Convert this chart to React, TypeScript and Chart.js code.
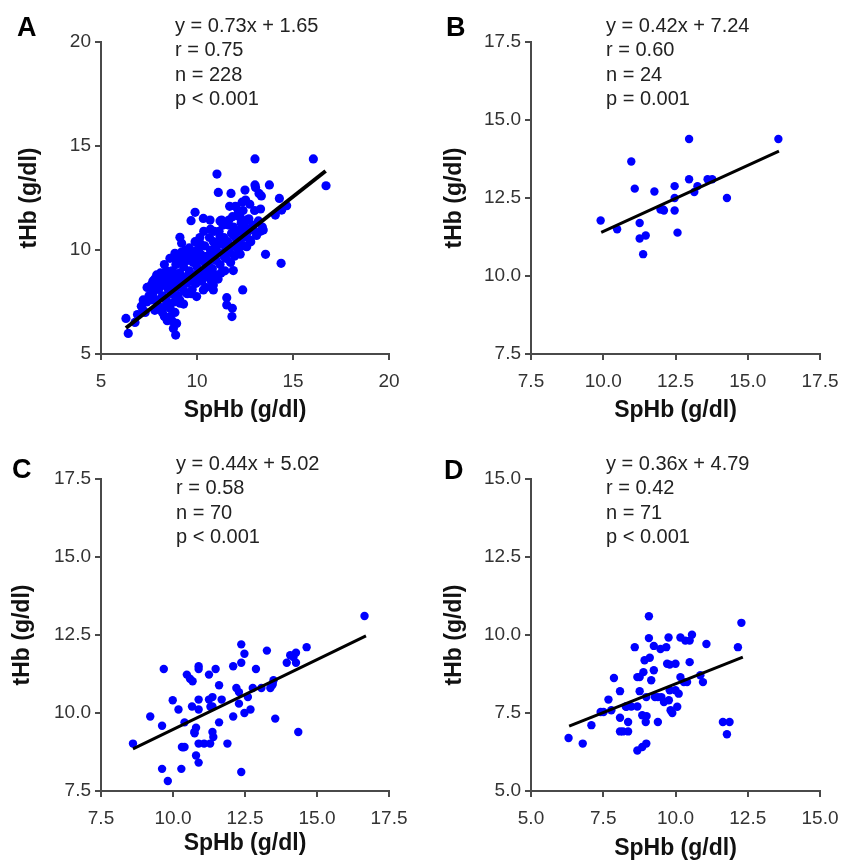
import React, { useEffect, useRef } from 'react';
import { Chart, registerables } from 'chart.js';

Chart.register(...registerables);

// ---------- Panel A (n = 228) ----------
const aSpHb = [
  6.3, 6.42, 6.77, 7.2, 7.38, 8.89, 8.59, 9.11, 9.69, 9.9, 11.04, 11.11, 10.33, 10.68, 11.28, 11.77, 12.03, 12.5, 12.53, 13.02,
  13.02, 13.23, 13.77, 13.31, 12.59, 12.24, 11.66, 11.89, 12.93, 13.45, 13.57, 14.29, 14.41, 14.67, 14.08, 14.38, 16.06, 16.72, 11.89, 12.38,
  11.55, 11.55, 11.84, 11.82, 10.85, 10.59, 10.1, 9.46, 9.2, 8.85, 10.16, 10.94, 11.72, 12.15, 12.59, 12.76, 12.24, 11.2, 10.59, 7.9,
  7.64, 8.33, 8.42, 8.16, 8.59, 8.94, 8.77, 9.11, 9.46, 9.98, 10.33, 10.85,
  7.6, 7.7, 7.8, 7.9, 7.7, 8.0, 7.9, 8.0, 7.8, 7.6,
  8.1, 8.2, 8.3, 8.4, 8.2, 8.3, 8.4, 8.5, 8.1, 8.5, 8.3, 8.45, 8.2, 8.4,
  8.6, 8.7, 8.8, 8.9, 8.6, 8.7, 8.8, 9.0, 8.9, 8.7, 8.65, 9.0, 8.85, 8.95, 8.75,
  9.1, 9.2, 9.3, 9.4, 9.1, 9.2, 9.35, 9.5, 9.45, 9.15, 9.3, 9.4, 9.25, 9.5, 9.05, 9.35,
  9.6, 9.7, 9.8, 9.9, 9.6, 9.75, 9.85, 10.0, 9.95, 9.65, 9.9, 9.7, 9.8, 10.0, 9.55, 9.9,
  10.1, 10.2, 10.3, 10.4, 10.15, 10.25, 10.4, 10.5, 10.3, 10.45, 10.2, 10.35, 10.5, 10.1, 10.4,
  10.6, 10.7, 10.8, 10.9, 10.65, 10.75, 10.85, 11.0, 10.95, 10.7, 10.9, 10.8, 11.0, 10.6,
  11.1, 11.2, 11.3, 11.4, 11.15, 11.25, 11.35, 11.5, 11.45, 11.2, 11.4, 11.1, 11.5,
  11.6, 11.7, 11.8, 11.9, 11.65, 11.75, 11.85, 12.0, 11.95, 11.7, 11.9, 12.0,
  12.1, 12.2, 12.3, 12.4, 12.15, 12.25, 12.35, 12.5, 12.45, 12.2, 12.4,
  12.6, 12.7, 12.8, 12.9, 13.0, 13.1, 13.2, 13.3, 13.4, 12.75, 13.05, 13.35,
  6.9, 7.1, 7.3, 7.5, 7.4, 7.2,
];
const aTHb = [
  6.71, 5.99, 6.52, 7.1, 7.5, 5.91, 9.6, 10.61, 11.41, 11.81, 13.65, 12.77, 11.52, 11.44, 11.44, 12.72, 12.08, 12.88, 12.4, 14.38,
  13.13, 12.72, 13.13, 11.97, 11.44, 11.6, 11.44, 10.72, 10.96, 10.96, 9.79, 12.48, 11.92, 12.13, 11.68, 9.36, 14.38, 13.09, 9.01, 8.08,
  7.71, 7.36, 7.2, 6.8, 8.32, 8.72, 9.52, 9.6, 10.33, 9.84, 10.33, 10.33, 10.16, 10.0, 10.16, 10.48, 10.96, 10.64, 9.68, 8.4,
  8.16, 8.72, 7.44, 7.12, 6.8, 6.47, 6.23, 7.44, 7.92, 7.76, 8.08, 8.08,
  8.3, 7.9, 8.6, 7.6, 8.5, 8.1, 8.8, 7.3, 7.1, 7.6,
  8.6, 7.8, 8.3, 9.0, 7.0, 6.8, 7.6, 8.1, 8.9, 8.7, 9.3, 6.6, 8.45, 7.3,
  8.4, 7.9, 8.9, 8.2, 7.2, 6.6, 7.5, 8.6, 9.3, 9.0, 8.05, 7.8, 7.0, 9.6, 8.55,
  8.9, 8.3, 9.2, 8.7, 7.6, 9.9, 8.0, 9.5, 8.4, 9.45, 7.4, 10.0, 8.65, 7.9, 8.2, 9.7,
  9.0, 8.5, 9.4, 8.8, 10.1, 8.1, 9.9, 9.2, 8.4, 9.7, 10.4, 7.9, 8.7, 10.0, 8.8, 9.6,
  9.0, 9.8, 8.9, 9.4, 10.6, 8.5, 10.2, 9.0, 9.6, 8.2, 10.2, 10.9, 9.7, 8.6, 8.7,
  9.3, 10.0, 9.1, 9.8, 10.6, 8.5, 10.4, 9.5, 8.8, 11.0, 10.9, 9.6, 10.2, 8.9,
  9.9, 9.3, 10.3, 9.7, 10.9, 8.9, 11.2, 10.1, 9.0, 11.4, 10.6, 8.6, 9.6,
  10.4, 9.9, 10.8, 10.2, 11.2, 9.4, 11.6, 10.6, 9.7, 12.1, 11.1, 12.1,
  10.9, 10.3, 11.3, 10.6, 11.8, 9.8, 12.3, 11.1, 10.2, 11.6, 11.9,
  10.8, 11.5, 10.4, 11.2, 11.9, 10.7, 11.4, 10.9, 11.1, 12.2, 13.0, 12.6,
  6.9, 7.3, 7.0, 7.8, 8.2, 7.6,
];
const aFitX = [6.3, 16.7];
const aFitY = [6.25, 13.8];
const aTicks = [5, 10, 15, 20];
const aTickLabels = ['5', '10', '15', '20'];
const aStats = ['y = 0.73x + 1.65', 'r = 0.75', 'n = 228', 'p < 0.001'];

// ---------- Panel B (n = 24) ----------
const bSpHb = [9.91, 10.48, 10.97, 11.09, 11.26, 11.26, 11.47, 11.38, 11.77, 11.98, 12.07, 12.47, 12.47, 12.47, 12.57, 12.97, 12.97, 13.15, 13.26, 13.61, 13.77, 14.28, 16.06, 12.1];
const bTHb = [11.78, 11.5, 13.67, 12.8, 11.7, 11.2, 11.3, 10.7, 12.71, 12.13, 12.13, 12.88, 12.5, 12.1, 11.39, 14.39, 13.1, 12.69, 12.88, 13.1, 13.1, 12.5, 14.39, 12.1];
const bFitX = [9.93, 16.08];
const bFitY = [11.4, 14.0];
const bTicks = [7.5, 10, 12.5, 15, 17.5];
const bTickLabels = ['7.5', '10.0', '12.5', '15.0', '17.5'];
const bStats = ['y = 0.42x + 7.24', 'r = 0.60', 'n = 24', 'p = 0.001'];

// ---------- Panel C (n = 70) ----------
const cSpHb = [
  8.61, 9.21, 9.62, 9.68, 9.62, 9.82, 9.99, 10.19, 10.29, 10.31, 10.4, 10.4, 10.48, 10.59, 10.68, 10.66, 10.74, 10.8, 10.8, 10.89,
  10.89, 10.89, 10.89, 10.89, 10.89, 11.08, 11.25, 11.25, 11.29, 11.37, 11.37, 11.4, 11.48, 11.6, 11.6, 11.69, 11.37, 11.89, 12.09, 12.09,
  12.2, 12.29, 12.29, 12.37, 12.37, 12.37, 12.48, 12.48, 12.6, 12.69, 12.77, 12.88, 13.07, 13.26, 13.38, 13.46, 13.49, 13.55, 13.95, 14.07,
  14.18, 14.27, 14.27, 14.35, 14.64, 16.65, 10.35, 10.75, 11.3, 13.45,
];
const cTHb = [
  9.02, 9.89, 9.59, 11.41, 8.21, 7.82, 10.41, 10.11, 8.21, 8.91, 9.7, 8.91, 11.23, 11.1, 11.02, 10.21, 9.39, 9.53, 8.64, 11.5,
  11.41, 10.43, 10.11, 9.02, 8.41, 9.02, 11.23, 10.43, 9.02, 10.21, 9.39, 9.23, 11.41, 10.89, 9.7, 10.43, 10.51, 9.02, 11.5, 9.89,
  10.8, 10.67, 10.3, 12.2, 11.61, 8.11, 11.9, 10.0, 10.51, 10.11, 10.8, 11.41, 10.8, 12.0, 10.8, 10.94, 11.05, 9.82, 11.61, 11.85,
  11.79, 11.93, 11.61, 9.39, 12.11, 13.11, 8.9, 9.35, 10.2, 10.9,
];
const cFitX = [8.61, 16.7];
const cFitY = [8.85, 12.47];
const cTicks = [7.5, 10, 12.5, 15, 17.5];
const cTickLabels = ['7.5', '10.0', '12.5', '15.0', '17.5'];
const cStats = ['y = 0.44x + 5.02', 'r = 0.58', 'n = 70', 'p < 0.001'];

// ---------- Panel D (n = 71) ----------
const dSpHb = [
  6.3, 6.79, 7.09, 7.41, 7.51, 7.68, 7.78, 7.87, 8.08, 8.08, 8.08, 8.18, 8.28, 8.36, 8.36, 8.47, 8.59, 8.68, 8.68, 8.68,
  8.76, 8.76, 8.85, 8.85, 8.89, 8.93, 8.97, 8.99, 8.99, 9.08, 9.08, 9.11, 9.16, 9.25, 9.25, 9.29, 9.39, 9.39, 9.48, 9.51,
  9.6, 9.68, 9.71, 9.76, 9.77, 9.83, 9.8, 9.89, 10.0, 10.0, 10.06, 10.11, 10.17, 10.17, 10.29, 10.34, 10.4, 10.49, 10.57, 10.49,
  10.86, 10.95, 11.07, 11.64, 11.87, 11.78, 12.16, 12.28, 9.0, 8.3, 9.8,
];
const dTHb = [
  6.7, 6.52, 7.11, 7.53, 7.53, 7.93, 7.59, 8.62, 8.2, 7.35, 6.91, 6.91, 7.71, 7.21, 6.91, 7.71, 9.61, 8.65, 7.71, 6.3,
  8.65, 8.2, 7.43, 6.41, 8.81, 9.19, 7.21, 6.52, 8.01, 10.6, 9.9, 9.27, 8.55, 8.87, 9.65, 8.01, 7.21, 8.01, 9.55, 8.01,
  7.85, 9.61, 9.08, 9.92, 7.91, 7.59, 8.23, 7.5, 8.23, 9.08, 7.7, 8.12, 8.65, 9.92, 8.49, 9.82, 8.49, 9.13, 10.01, 9.82,
  8.71, 8.49, 9.71, 7.21, 7.21, 6.82, 9.61, 10.39, 7.4, 7.7, 9.05,
];
const dFitX = [6.32, 12.33];
const dFitY = [7.08, 9.29];
const dTicks = [5, 7.5, 10, 12.5, 15];
const dTickLabels = ['5.0', '7.5', '10.0', '12.5', '15.0'];
const dStats = ['y = 0.36x + 4.79', 'r = 0.42', 'n = 71', 'p < 0.001'];

const xTitle = 'SpHb (g/dl)';
const yTitle = 'tHb (g/dl)';

const FONT = "Arial, 'Liberation Sans', Helvetica, sans-serif";
const AXIS_COLOR = '#4a4a4a';

type PanelProps = {
  letter: string;
  stats: string[];
  xs: number[];
  ys: number[];
  fitX: number[];
  fitY: number[];
  ticks: number[];
  tickLabels: string[];
  left: number;
  top: number;
  pad: { left: number; top: number; right: number; bottom: number };
  yWidth: number;
  xHeight: number;
  letterPos: { left: number; top: number };
  statsPos: { left: number; top: number };
  lineWidth: number;
  pointRadius: number;
};

function Panel(p: PanelProps) {
  const ref = useRef<HTMLCanvasElement | null>(null);
  useEffect(() => {
    if (!ref.current) return;
    const pts = p.xs.map((x, i) => ({ x, y: p.ys[i] }));
    const fit = p.fitX.map((x, i) => ({ x, y: p.fitY[i] }));
    const min = p.ticks[0];
    const max = p.ticks[p.ticks.length - 1];
    const mkScale = (isX: boolean) => ({
      type: 'linear' as const,
      min,
      max,
      afterBuildTicks: (s: any) => {
        s.ticks = p.ticks.map((v) => ({ value: v }));
      },
      afterFit: (s: any) => {
        if (isX) s.height = p.xHeight;
        else s.width = p.yWidth;
        s.paddingLeft = 0;
        s.paddingRight = 0;
        s.paddingTop = 0;
        s.paddingBottom = 0;
      },
      border: { display: true, color: AXIS_COLOR, width: 2 },
      grid: {
        drawOnChartArea: false,
        drawTicks: true,
        tickLength: 6,
        color: AXIS_COLOR,
        lineWidth: 2,
      },
      ticks: {
        color: '#333',
        font: { family: FONT, size: 19 },
        padding: isX ? 10 : 4,
        maxRotation: 0,
        autoSkip: false,
        callback: (_v: any, i: number) => p.tickLabels[i],
      },
      title: {
        display: true,
        text: isX ? xTitle : yTitle,
        color: '#111',
        font: { family: FONT, size: 23, weight: 'bold' as const },
        padding: 0,
      },
    });
    const chart = new Chart(ref.current, {
      type: 'scatter',
      data: {
        datasets: [
          {
            label: 'fit',
            data: fit,
            showLine: true,
            borderColor: '#000',
            borderWidth: p.lineWidth,
            pointRadius: 0,
            order: 0,
          },
          {
            label: 'data',
            data: pts,
            backgroundColor: '#0000ff',
            borderWidth: 0,
            pointRadius: p.pointRadius,
            order: 1,
          },
        ],
      },
      options: {
        responsive: false,
        animation: false,
        devicePixelRatio: 1,
        layout: { padding: p.pad },
        plugins: { legend: { display: false }, tooltip: { enabled: false } },
        scales: { x: mkScale(true), y: mkScale(false) } as any,
      },
    });
    return () => chart.destroy();
  }, []);
  return (
    <div style={{ position: 'absolute', left: p.left, top: p.top, width: 421, height: 431 }}>
      <canvas ref={ref} width={421} height={431} style={{ position: 'absolute', left: 0, top: 0 }} />
      <div
        style={{
          position: 'absolute',
          left: p.letterPos.left,
          top: p.letterPos.top,
          fontFamily: FONT,
          fontWeight: 'bold',
          fontSize: 27,
          lineHeight: '27px',
          color: '#000',
        }}
      >
        {p.letter}
      </div>
      <div
        style={{
          position: 'absolute',
          left: p.statsPos.left,
          top: p.statsPos.top,
          fontFamily: FONT,
          fontSize: 20,
          lineHeight: '24.3px',
          color: '#222',
          whiteSpace: 'nowrap',
        }}
      >
        {p.stats.map((s, i) => (
          <div key={i}>{s}</div>
        ))}
      </div>
    </div>
  );
}

export default function App() {
  return (
    <div style={{ position: 'absolute', left: 0, top: 0, width: 842, height: 862, background: '#fff', overflow: 'hidden' }}>
      <Panel
        letter="A"
        stats={aStats}
        xs={aSpHb}
        ys={aTHb}
        fitX={aFitX}
        fitY={aFitY}
        ticks={aTicks}
        tickLabels={aTickLabels}
        left={0}
        top={0}
        pad={{ left: 16, top: 42, right: 32, bottom: 7 }}
        yWidth={85}
        xHeight={70}
        letterPos={{ left: 17, top: 14 }}
        statsPos={{ left: 175, top: 13 }}
        lineWidth={4}
        pointRadius={4.6}
      />
      <Panel
        letter="B"
        stats={bStats}
        xs={bSpHb}
        ys={bTHb}
        fitX={bFitX}
        fitY={bFitY}
        ticks={bTicks}
        tickLabels={bTickLabels}
        left={421}
        top={0}
        pad={{ left: 20, top: 42, right: 22, bottom: 7 }}
        yWidth={90}
        xHeight={70}
        letterPos={{ left: 25, top: 14 }}
        statsPos={{ left: 185, top: 13 }}
        lineWidth={3}
        pointRadius={4.2}
      />
      <Panel
        letter="C"
        stats={cStats}
        xs={cSpHb}
        ys={cTHb}
        fitX={cFitX}
        fitY={cFitY}
        ticks={cTicks}
        tickLabels={cTickLabels}
        left={0}
        top={431}
        pad={{ left: 9, top: 48, right: 32, bottom: 5 }}
        yWidth={92}
        xHeight={66}
        letterPos={{ left: 12, top: 25 }}
        statsPos={{ left: 176, top: 20 }}
        lineWidth={3}
        pointRadius={4.2}
      />
      <Panel
        letter="D"
        stats={dStats}
        xs={dSpHb}
        ys={dTHb}
        fitX={dFitX}
        fitY={dFitY}
        ticks={dTicks}
        tickLabels={dTickLabels}
        left={421}
        top={431}
        pad={{ left: 20, top: 48, right: 22, bottom: 0 }}
        yWidth={90}
        xHeight={71}
        letterPos={{ left: 23, top: 26 }}
        statsPos={{ left: 185, top: 20 }}
        lineWidth={3}
        pointRadius={4.2}
      />
    </div>
  );
}
